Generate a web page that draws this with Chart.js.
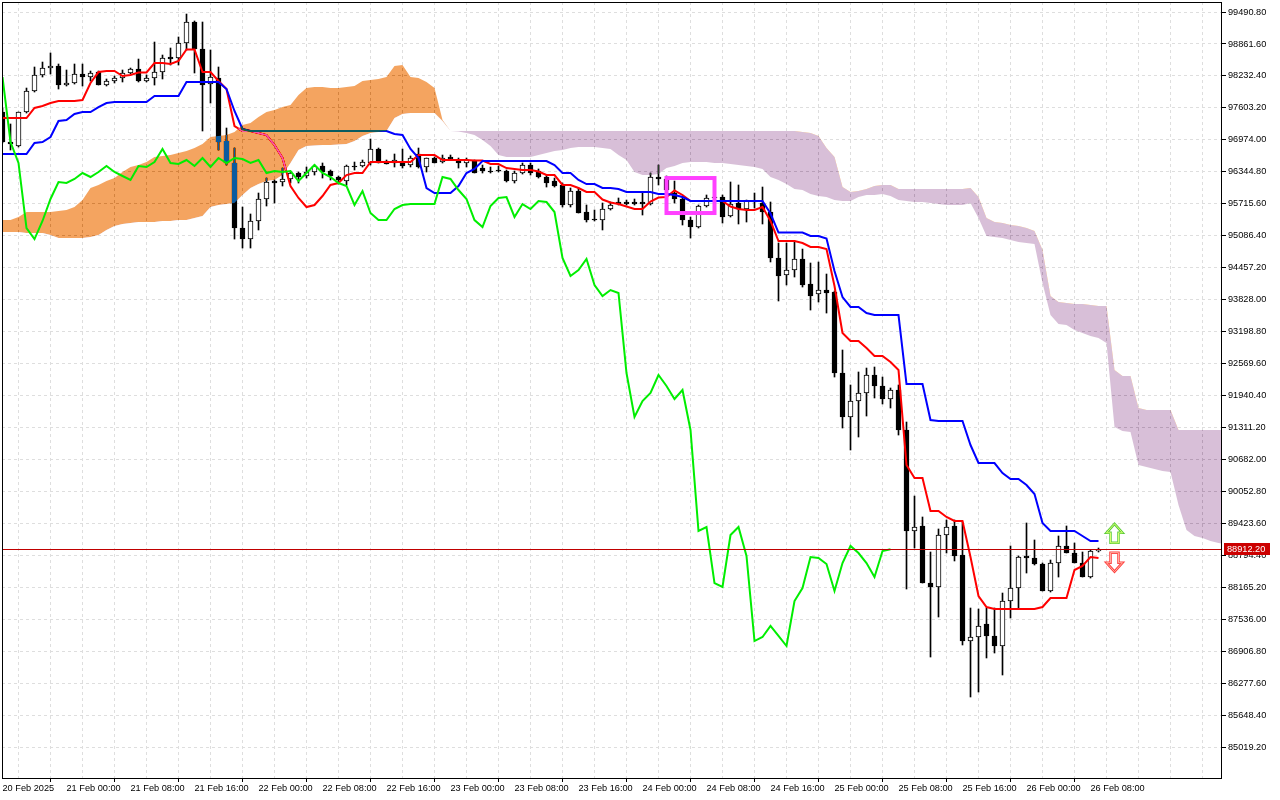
<!DOCTYPE html>
<html>
<head>
<meta charset="utf-8">
<title>BTCUSD H1 Ichimoku</title>
<script src="https://cdn.jsdelivr.net/npm/chart.js@4.4.1/dist/chart.umd.min.js"></script>
<style>
  html, body { margin: 0; padding: 0; background: #fff; }
  canvas { display: block; }
</style>
</head>
<body>
<canvas id="chart" width="1280" height="800"></canvas>
<script>
// H1 bars, bar 0 = 20 Feb 2025 16:00
const opens = [
  97522,96931,96852,97522,97935,98250,98388,98428,98053,98093,
  98270,98211,98309,98053,98132,98191,98290,98369,98132,98191,
  98309,98605,98585,98880,99294,98762,98073,98191,96951,96518,
  95238,95021,95376,95809,96163,96144,96203,96321,96262,96341,
  96459,96360,96242,96163,96459,96459,96518,96793,96557,96518,
  96537,96478,96695,96439,96616,96537,96636,96577,96518,96557,
  96419,96360,96380,96360,96163,96321,96478,96360,96242,96163,
  96085,95691,95966,95553,95415,95395,95612,95750,95750,95750,
  95750,95710,96242,96203,95927,95809,95395,95258,95671,95829,
  95848,95474,95730,95612,95770,95730,95553,94647,94313,94411,
  94628,94135,93938,94017,93978,92383,91517,91832,91989,92344,
  92127,91871,92048,91261,89272,89371,88248,88170,89193,89371,
  88800,87106,87185,87441,87205,87008,87894,88150,88780,88741,
  88622,88091,88642,88977,88839,88642,88366,88878
];
const highs = [
  97601,97286,97522,97994,98408,98506,98684,98467,98349,98467,
  98467,98329,98329,98172,98231,98349,98388,98565,98251,98900,
  98644,98782,98999,99451,99314,99294,98743,98408,97207,96813,
  95651,95514,95927,96222,96183,96419,96341,96341,96439,96478,
  96518,96380,96262,96478,96537,96577,96990,96813,96577,96695,
  96793,96656,96813,96616,96636,96675,96675,96616,96616,96577,
  96478,96439,96459,96380,96360,96518,96518,96400,96281,96222,
  96124,96026,96026,95691,95592,95730,95750,95829,95789,95809,
  95927,96321,96478,96262,96163,95848,95455,95691,95888,95907,
  95888,96144,96085,95789,95927,96045,95750,94943,94943,94982,
  94824,94549,94569,94332,93998,92836,92147,92403,92481,92501,
  92304,92088,92147,91418,89961,89548,88859,89312,89489,89489,
  89449,87756,87736,87756,87756,88051,88977,88780,89430,89095,
  88642,88701,89174,89371,89036,88859,88898,88937
];
const lows = [
  96912,96774,96833,97502,97916,98211,98270,97975,98034,98073,
  98034,98132,98053,98034,98093,98113,98270,98113,98113,98053,
  98172,98447,98447,98743,98290,97148,97699,96774,96478,95021,
  94844,94844,95199,95671,95730,96065,96124,96124,96222,96281,
  96222,96183,96104,96085,96380,96439,96478,96518,96498,96439,
  96419,96439,96419,96341,96518,96518,96577,96419,96439,96321,
  96321,96321,96341,96144,96124,96301,96281,96222,96045,96045,
  95651,95651,95533,95356,95376,95199,95592,95691,95691,95691,
  95494,95691,96085,95907,95730,95297,95041,95238,95651,95730,
  95336,95455,95317,95356,95632,95317,94569,93801,94116,94273,
  94076,93623,93781,93564,92304,91300,90867,91123,91536,91891,
  91773,91694,91162,88130,88937,88248,86791,87579,88839,88682,
  87028,86004,86102,86772,86870,86437,87559,87756,88445,88603,
  88091,88071,88366,88839,88642,88366,88347,88859
];
const closes = [
  96931,96892,97522,97935,98250,98388,98428,98053,98093,98270,
  98211,98290,98053,98132,98191,98290,98369,98132,98191,98309,
  98585,98565,98880,99294,98762,98053,98211,96931,96518,95238,
  95021,95376,95809,96144,96124,96203,96321,96242,96341,96459,
  96341,96262,96183,96459,96439,96537,96793,96518,96498,96577,
  96459,96616,96439,96616,96518,96616,96596,96518,96577,96321,
  96360,96341,96360,96163,96321,96478,96321,96242,96124,96065,
  95691,95966,95533,95395,95395,95612,95691,95710,95710,95710,
  95710,96242,96203,95986,95809,95395,95258,95671,95829,95848,
  95455,95710,95612,95770,95750,95553,94647,94293,94411,94628,
  94116,93899,94017,93958,92383,91517,91832,91989,92344,92127,
  91871,92048,91261,89272,89351,88248,88170,89193,89351,88780,
  87106,87185,87402,87205,87008,87894,88150,88760,88741,88622,
  88091,88642,88977,88839,88642,88366,88878,88912.2
];

// Ichimoku 9/26/52
const tenkan = [
  97404,97404,97404,97404,97601,97640,97699,97738,97738,97738,
  97758,98093,98309,98329,98329,98231,98250,98300,98300,98487,
  98487,98467,98526,98752,98752,98309,98309,98132,97975,97246,
  97148,97148,97108,97069,96872,96616,96065,95829,95651,95691,
  95868,96085,96124,96281,96321,96321,96537,96537,96537,96537,
  96537,96537,96675,96675,96675,96577,96577,96577,96577,96567,
  96567,96498,96498,96419,96400,96380,96380,96350,96281,96281,
  96085,96085,96026,95947,95947,95799,95740,95710,95661,95612,
  95612,95760,95839,95848,95976,95888,95770,95770,95770,95770,
  95770,95661,95612,95592,95592,95651,95376,94982,94982,94982,
  94943,94864,94864,94824,94096,93171,93013,93013,92875,92718,
  92718,92600,92442,90572,90316,90316,89666,89666,89548,89469,
  89469,88760,87992,87776,87736,87736,87736,87736,87736,87736,
  87776,87953,87953,87953,88504,88583,88760,88741
];
const kijun = [
  96695,96695,96695,96695,96912,96931,97030,97345,97364,97483,
  97522,97522,97620,97699,97719,97719,97719,97719,97719,97837,
  97837,97837,97837,98113,98113,98113,98113,98113,97975,97542,
  97187,97148,97148,97148,97148,97148,97148,97148,97148,97148,
  97148,97148,97148,97148,97148,97148,97148,97148,97148,97089,
  97069,96793,96616,96026,95927,95927,95927,96065,96321,96400,
  96557,96557,96557,96557,96557,96557,96557,96557,96557,96478,
  96321,96321,96183,96104,96104,96026,96026,96006,95947,95947,
  95947,95947,95907,95907,95888,95848,95770,95770,95770,95770,
  95770,95770,95770,95770,95770,95770,95523,95149,95149,95149,
  95149,95080,95080,95031,94391,93879,93683,93683,93564,93525,
  93525,93525,93525,92166,92166,92166,91458,91438,91438,91438,
  91438,90965,90611,90611,90611,90414,90296,90296,90178,90001,
  89430,89272,89272,89272,89272,89174,89075,89075
];
// senkou spans as plotted (already shifted 26 bars ahead)
const spanA = [
  95395,95395,95455,95553,95553,95553,95553,95573,95592,95651,
  95789,96026,96085,96163,96222,96341,96439,96478,96537,96636,
  96656,96675,96715,96754,96813,96892,97030,97049,97069,97128,
  97266,97305,97423,97522,97561,97620,97660,97857,97994,98014,
  98014,97994,97994,98014,98034,98132,98152,98172,98211,98428,
  98447,98211,98191,98113,97994,97364,97148,97138,97108,97069,
  96971,96852,96675,96636,96636,96636,96636,96675,96715,96754,
  96774,96813,96833,96833,96833,96813,96793,96675,96577,96341,
  96281,96281,96301,96419,96459,96518,96537,96537,96537,96518,
  96518,96498,96478,96459,96439,96400,96242,96183,96104,96006,
  95986,95907,95868,95848,95789,95770,95770,95848,95888,95888,
  95907,95868,95789,95770,95750,95750,95730,95710,95691,95691,
  95691,95730,95435,95080,95061,95041,95002,94962,94943,94923,
  94155,93525,93348,93328,93230,93171,93112,93072,92974,91320,
  91241,91221,90572,90532,90493,90454,90434,89784,89292,89174,
  89134,89075,89036,89016
];
const spanB = [
  95159,95159,95159,95140,95140,95140,95100,95041,95041,95041,
  95041,95061,95100,95199,95277,95317,95336,95356,95356,95356,
  95376,95376,95395,95395,95435,95474,95651,95691,95710,95730,
  95888,96026,96104,96163,96183,96281,96518,96774,96852,96862,
  96872,96872,96882,96892,96951,97049,97108,97128,97148,97404,
  97483,97502,97502,97502,97502,97345,97148,97148,97148,97148,
  97148,97148,97148,97148,97148,97148,97148,97148,97148,97148,
  97148,97148,97148,97148,97148,97148,97148,97148,97148,97148,
  97148,97148,97148,97148,97148,97148,97148,97148,97148,97148,
  97148,97148,97148,97148,97148,97148,97148,97148,97148,97148,
  97128,97108,97049,96813,96636,96045,95947,95966,96006,96065,
  96085,96085,96006,96006,96006,96006,96006,96006,96006,96006,
  96006,96026,95848,95435,95356,95336,95297,95277,95238,95179,
  94805,93899,93781,93761,93742,93742,93722,93702,93702,92442,
  92324,92324,91694,91655,91655,91655,91655,91261,91261,91261,
  91261,91261,91261,91261
];
const chikouShift = 26;

const priceTicks = [
  99490.80, 98861.60, 98232.40, 97603.20, 96974.00, 96344.80, 95715.60, 95086.40,
  94457.20, 93828.00, 93198.80, 92569.60, 91940.40, 91311.20, 90682.00, 90052.80,
  89423.60, 88794.40, 88165.20, 87536.00, 86906.80, 86277.60, 85648.40, 85019.20
];
const timeTicks = [0, 8, 16, 24, 32, 40, 48, 56, 64, 72, 80, 88, 96, 104, 112, 120, 128, 136];
const timeLabels = [
  '20 Feb 2025', '21 Feb 00:00', '21 Feb 08:00', '21 Feb 16:00', '22 Feb 00:00', '22 Feb 08:00',
  '22 Feb 16:00', '23 Feb 00:00', '23 Feb 08:00', '23 Feb 16:00', '24 Feb 00:00', '24 Feb 08:00',
  '24 Feb 16:00', '25 Feb 00:00', '25 Feb 08:00', '25 Feb 16:00', '26 Feb 00:00', '26 Feb 08:00'
];

// rectangle object and the two arrow objects on the chart
const boxBars = [83, 89];
const boxPrices = [96222, 95533];
const arrowBar = 139;
const arrowUpPrice = 89227;
const arrowDownPrice = 88658;

const lastPrice = closes[closes.length - 1];

const wickData = opens.map((o, i) => ({ x: i, y: [lows[i], highs[i]] }));
const bodyData = opens.map((o, i) => ({ x: i, y: [o, closes[i]] }));
const bodyColors = opens.map((o, i) => closes[i] >= o ? '#ffffff' : '#000000');
const asPoints = arr => arr.map((v, i) => ({ x: i, y: v }));
const chikouData = closes.slice(chikouShift).map((c, i) => ({ x: i, y: c }));

const gridSteps = [];
for (let v = 0; v <= 152; v += 4) gridSteps.push(v);

function drawArrow(ctx, cx, cy, dir, outer, inner) {
  // dir 1 = up, -1 = down
  ctx.beginPath();
  ctx.moveTo(cx, cy - 9.5 * dir);
  ctx.lineTo(cx + 8, cy - 0.5 * dir);
  ctx.lineTo(cx + 4, cy - 0.5 * dir);
  ctx.lineTo(cx + 4, cy + 9.5 * dir);
  ctx.lineTo(cx - 4, cy + 9.5 * dir);
  ctx.lineTo(cx - 4, cy - 0.5 * dir);
  ctx.lineTo(cx - 8, cy - 0.5 * dir);
  ctx.closePath();
  ctx.fillStyle = '#ffffff';
  ctx.fill();
  ctx.lineWidth = 2.5;
  ctx.strokeStyle = outer;
  ctx.stroke();
  ctx.lineWidth = 1;
  ctx.strokeStyle = inner;
  ctx.stroke();
}

const mtLook = {
  id: 'mtLook',
  beforeDraw(chart) {
    const c = chart.ctx;
    c.save();
    c.fillStyle = '#ffffff';
    c.fillRect(0, 0, chart.width, chart.height);
    c.restore();
  },
  // the cloud is painted inverted over what is under it, like the terminal does
  afterDatasetDraw(chart, args) {
    if (args.index === 3) chart.ctx.globalCompositeOperation = 'difference';
    if (args.index === 4) chart.ctx.globalCompositeOperation = 'source-over';
  },
  afterDatasetsDraw(chart) {
    const c = chart.ctx, a = chart.chartArea;
    const xs = chart.scales.x, ys = chart.scales.y;
    c.save();
    c.globalCompositeOperation = 'source-over';
    c.beginPath();
    c.rect(a.left, a.top, a.right - a.left, a.bottom - a.top);
    c.clip();
    // current price line
    const py = Math.round(ys.getPixelForValue(lastPrice)) + 0.5;
    c.strokeStyle = '#c00000';
    c.lineWidth = 1;
    c.beginPath();
    c.moveTo(a.left, py);
    c.lineTo(a.right, py);
    c.stroke();
    // magenta rectangle
    const x1 = xs.getPixelForValue(boxBars[0]), x2 = xs.getPixelForValue(boxBars[1]);
    const y1 = ys.getPixelForValue(boxPrices[0]), y2 = ys.getPixelForValue(boxPrices[1]);
    c.strokeStyle = '#ff40ff';
    c.lineWidth = 4;
    c.strokeRect(x1, y1, x2 - x1, y2 - y1);
    // arrows
    const ax = xs.getPixelForValue(arrowBar);
    drawArrow(c, ax, ys.getPixelForValue(arrowUpPrice), 1, '#5ccc3c', '#d8ff70');
    drawArrow(c, ax, ys.getPixelForValue(arrowDownPrice), -1, '#ff3c3c', '#ffb0a0');
    c.restore();
  },
  afterDraw(chart) {
    const c = chart.ctx, a = chart.chartArea, ys = chart.scales.y;
    c.save();
    c.strokeStyle = '#000000';
    c.lineWidth = 1;
    c.strokeRect(a.left + 0.5, a.top + 0.5, a.right - a.left - 1, a.bottom - a.top);
    const py = ys.getPixelForValue(lastPrice);
    c.fillStyle = '#cc0000';
    c.fillRect(a.right + 2, Math.round(py) - 6, 46, 12);
    c.fillStyle = '#ffffff';
    c.font = '9.2px "Liberation Sans", Arial, sans-serif';
    c.textBaseline = 'middle';
    c.textAlign = 'left';
    c.fillText(lastPrice.toFixed(2), a.right + 5, Math.round(py) + 0.5);
    c.restore();
  }
};

Chart.defaults.font.family = '"Liberation Sans", Arial, sans-serif';
Chart.defaults.font.size = 9.2;
Chart.defaults.color = '#000000';

new Chart(document.getElementById('chart'), {
  type: 'bar',
  data: {
    datasets: [
      { type: 'bar', data: wickData, backgroundColor: '#000000', borderWidth: 0,
        barThickness: 1, grouped: false, order: 7 },
      { type: 'bar', data: bodyData, backgroundColor: bodyColors, borderColor: '#000000',
        borderWidth: 1, borderSkipped: false, barThickness: 5, minBarLength: 1,
        grouped: false, order: 6 },
      { type: 'line', data: asPoints(tenkan), borderColor: '#ff0000', borderWidth: 2,
        pointRadius: 0, fill: false, tension: 0, order: 5 },
      { type: 'line', data: asPoints(kijun), borderColor: '#0000ff', borderWidth: 2,
        pointRadius: 0, fill: false, tension: 0, order: 4 },
      { type: 'line', data: asPoints(spanA), borderColor: 'rgba(0,0,0,0)', borderWidth: 0,
        pointRadius: 0, tension: 0, order: 3,
        fill: { target: '+1', above: 'rgb(11,91,159)', below: 'rgb(39,64,39)' } },
      { type: 'line', data: asPoints(spanB), borderColor: 'rgba(0,0,0,0)', borderWidth: 0,
        pointRadius: 0, tension: 0, fill: false, order: 2 },
      { type: 'line', data: chikouData, borderColor: '#00ee00', borderWidth: 2,
        pointRadius: 0, fill: false, tension: 0, order: 1 }
    ]
  },
  options: {
    responsive: false,
    devicePixelRatio: 1,
    animation: false,
    events: [],
    layout: { padding: { left: 2, top: 2, right: 0, bottom: 0 } },
    plugins: { legend: { display: false }, tooltip: { enabled: false } },
    scales: {
      x: {
        type: 'linear',
        min: -0.0625,
        max: 152.4375,
        offset: false,
        afterBuildTicks: s => { s.ticks = gridSteps.map(v => ({ value: v })); },
        afterFit: s => { s.height = 22; s.paddingLeft = 0; s.paddingRight = 0; },
        ticks: {
          autoSkip: false, maxRotation: 0, minRotation: 0, align: 'start', padding: 1,
          callback: v => { const i = timeTicks.indexOf(v); return i < 0 ? '' : timeLabels[i]; }
        },
        grid: {
          color: c => (c.tick && c.tick.value === 0) ? 'rgba(0,0,0,0)' : '#dedede',
          tickColor: c => (c.tick && timeTicks.includes(c.tick.value)) ? '#000000' : 'rgba(0,0,0,0)',
          tickLength: 4,
          tickBorderDash: []
        },
        border: { display: false, dash: [3, 3] }
      },
      y: {
        position: 'right',
        min: 84409,
        max: 99688,
        beginAtZero: false,
        afterBuildTicks: s => { s.ticks = priceTicks.map(v => ({ value: v })); },
        afterFit: s => { s.width = 58; s.paddingTop = 0; s.paddingBottom = 0; },
        ticks: { autoSkip: false, padding: 2, callback: v => v.toFixed(2) },
        grid: { color: '#dedede', tickColor: '#000000', tickLength: 4, tickBorderDash: [] },
        border: { display: false, dash: [3, 3] }
      }
    }
  },
  plugins: [mtLook]
});
</script>
</body>
</html>
